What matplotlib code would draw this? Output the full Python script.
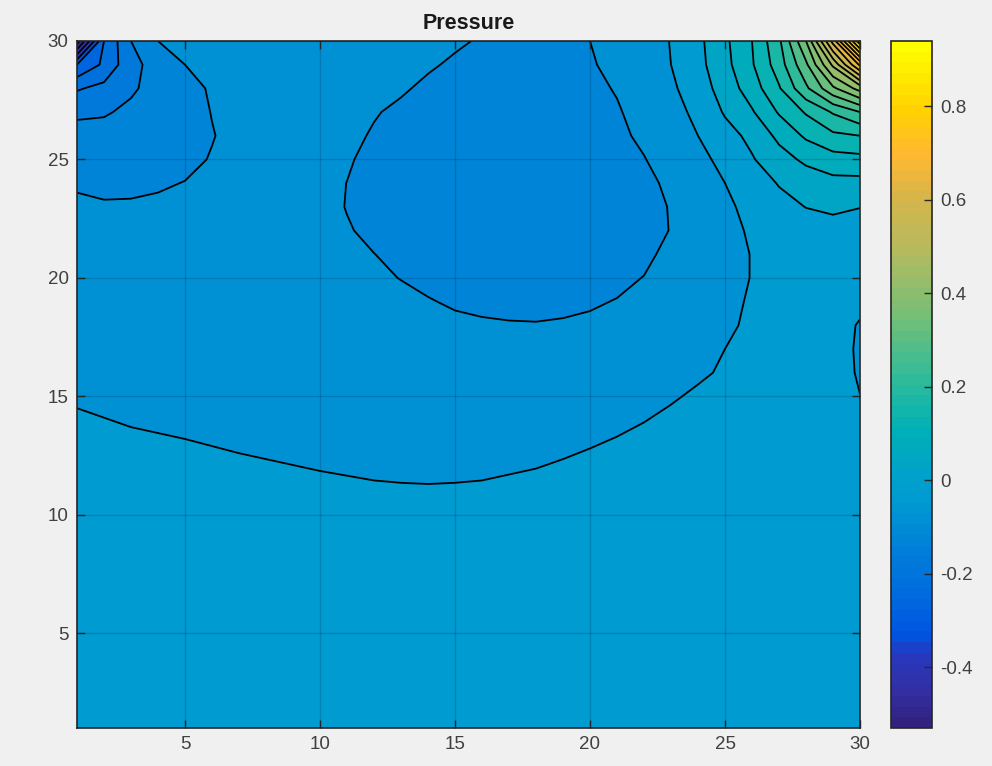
import matplotlib
matplotlib.use('Agg')
import matplotlib.pyplot as plt
import numpy as np
from matplotlib.cm import ScalarMappable
from matplotlib.colors import LinearSegmentedColormap, Normalize

plt.rcParams['font.family'] = ['Liberation Sans', 'DejaVu Sans']

# grid nodes, pressure, one row per y (y = 1 first)
x_nodes = list(range(1, 31))
y_nodes = list(range(1, 31))
pressure = [
    [-.031,-.031,-.031,-.031,-.032,-.032,-.032,-.032,-.032,-.032,-.033,-.033,-.033,-.033,-.033,-.033,-.033,-.033,-.032,-.032,-.032,-.032,-.031,-.031,-.031,-.031,-.031,-.031,-.031,-.031],
    [-.032,-.032,-.032,-.033,-.033,-.033,-.033,-.033,-.034,-.034,-.034,-.034,-.034,-.034,-.034,-.034,-.034,-.034,-.034,-.033,-.033,-.033,-.032,-.032,-.032,-.032,-.032,-.032,-.032,-.032],
    [-.033,-.033,-.034,-.034,-.034,-.034,-.035,-.035,-.035,-.035,-.036,-.036,-.036,-.036,-.036,-.036,-.036,-.035,-.035,-.035,-.034,-.034,-.033,-.033,-.033,-.033,-.033,-.033,-.033,-.033],
    [-.034,-.034,-.035,-.035,-.035,-.036,-.036,-.036,-.037,-.037,-.037,-.037,-.038,-.038,-.038,-.037,-.037,-.037,-.036,-.036,-.035,-.035,-.034,-.034,-.034,-.034,-.034,-.034,-.034,-.034],
    [-.035,-.035,-.036,-.036,-.037,-.037,-.037,-.038,-.038,-.039,-.039,-.039,-.039,-.04,-.04,-.039,-.039,-.038,-.038,-.037,-.036,-.036,-.035,-.035,-.035,-.035,-.035,-.035,-.035,-.035],
    [-.036,-.037,-.037,-.037,-.038,-.038,-.039,-.039,-.04,-.04,-.04,-.041,-.041,-.041,-.041,-.041,-.04,-.04,-.039,-.038,-.038,-.037,-.036,-.036,-.036,-.036,-.036,-.036,-.036,-.036],
    [-.037,-.038,-.038,-.039,-.039,-.04,-.04,-.041,-.041,-.042,-.042,-.042,-.043,-.043,-.043,-.043,-.042,-.042,-.041,-.04,-.039,-.038,-.037,-.037,-.037,-.037,-.037,-.037,-.037,-.037],
    [-.039,-.039,-.04,-.04,-.041,-.041,-.042,-.042,-.043,-.043,-.043,-.044,-.044,-.044,-.044,-.044,-.043,-.043,-.042,-.041,-.04,-.039,-.038,-.038,-.038,-.038,-.038,-.038,-.038,-.038],
    [-.04,-.041,-.041,-.042,-.042,-.043,-.043,-.043,-.043,-.044,-.044,-.044,-.045,-.045,-.045,-.045,-.044,-.044,-.043,-.042,-.041,-.04,-.039,-.039,-.039,-.039,-.039,-.039,-.039,-.039],
    [-.042,-.042,-.043,-.043,-.043,-.043,-.044,-.044,-.044,-.045,-.045,-.046,-.046,-.047,-.046,-.046,-.045,-.044,-.044,-.043,-.042,-.041,-.04,-.04,-.04,-.04,-.04,-.04,-.04,-.04],
    [-.043,-.043,-.044,-.044,-.044,-.044,-.044,-.044,-.0445,-.04575,-.04675,-.04775,-.04825,-.0485,-.04825,-.04775,-.0465,-.04525,-.044,-.043,-.043,-.042,-.041,-.041,-.041,-.04,-.04,-.04,-.04,-.041],
    [-.044,-.045,-.045,-.046,-.046,-.0455,-.047,-.04825,-.0495,-.05075,-.05175,-.05275,-.05325,-.0535,-.05325,-.05275,-.0515,-.05025,-.04825,-.046,-.044,-.043,-.042,-.042,-.042,-.042,-.041,-.041,-.041,-.043],
    [-.045,-.047,-.0465,-.04775,-.049,-.0505,-.052,-.05325,-.0545,-.056,-.058,-.06,-.062,-.063,-.063,-.062,-.061,-.059,-.05325,-.051,-.0485,-.0455,-.044,-.044,-.043,-.043,-.042,-.042,-.042,-.044],
    [-.0475,-.0495,-.0515,-.05275,-.054,-.055,-.056,-.057,-.059,-.061,-.064,-.066,-.068,-.07,-.07,-.07,-.069,-.067,-.063,-.059,-.0535,-.0505,-.04675,-.045,-.044,-.043,-.042,-.042,-.042,-.046],
    [-.0525,-.0545,-.056,-.057,-.058,-.059,-.06,-.061,-.063,-.066,-.069,-.072,-.074,-.076,-.077,-.077,-.076,-.075,-.071,-.067,-.06,-.056,-.05175,-.0475,-.046,-.044,-.043,-.043,-.044,-.0499],
    [-.057,-.058,-.059,-.06,-.061,-.062,-.063,-.064,-.066,-.069,-.073,-.077,-.08,-.082,-.083,-.084,-.084,-.083,-.08,-.075,-.067,-.063,-.058,-.0525,-.048,-.045,-.044,-.044,-.046,-.051],
    [-.061,-.062,-.063,-.064,-.065,-.065,-.066,-.067,-.069,-.072,-.077,-.082,-.085,-.088,-.09,-.091,-.092,-.091,-.088,-.083,-.076,-.073,-.066,-.056,-.05,-.045,-.044,-.045,-.047,-.051],
    [-.067,-.068,-.069,-.069,-.069,-.069,-.069,-.07,-.072,-.076,-.081,-.086,-.09,-.093,-.096,-.0979,-.0988,-.0991,-.0982,-.0964,-.09,-.083,-.075,-.063,-.054,-.046,-.044,-.044,-.045,-.051],
    [-.073,-.074,-.075,-.074,-.073,-.072,-.072,-.073,-.075,-.08,-.085,-.09,-.0946,-.0988,-.1024,-.1039,-.1048,-.1051,-.1042,-.1024,-.0991,-.092,-.083,-.07,-.057,-.047,-.045,-.044,-.044,-.047],
    [-.079,-.08,-.081,-.08,-.077,-.075,-.074,-.075,-.078,-.084,-.09,-.096,-.1006,-.1048,-.108,-.11,-.112,-.111,-.109,-.107,-.1051,-.0994,-.09,-.076,-.06,-.049,-.043,-.04,-.036,-.04],
    [-.084,-.086,-.087,-.085,-.082,-.079,-.077,-.077,-.08,-.087,-.094,-.0997,-.106,-.11,-.114,-.116,-.117,-.117,-.114,-.111,-.108,-.1054,-.0935,-.078,-.06,-.049,-.04,-.034,-.027,-.03],
    [-.09,-.092,-.092,-.09,-.087,-.083,-.08,-.079,-.081,-.088,-.098,-.1057,-.11,-.115,-.118,-.12,-.121,-.121,-.118,-.114,-.11,-.108,-.0992,-.08,-.06,-.0457,-.03,-.022,-.012,-.018],
    [-.0946,-.0973,-.0969,-.0946,-.092,-.088,-.083,-.081,-.083,-.091,-.101,-.108,-.114,-.118,-.121,-.123,-.124,-.124,-.12,-.115,-.11,-.106,-.099,-.075,-.056,-.041,-.016,.001,.006,.001],
    [-.1036,-.1063,-.1059,-.1036,-.0991,-.093,-.086,-.082,-.084,-.091,-.1003,-.109,-.115,-.119,-.122,-.124,-.125,-.124,-.12,-.114,-.109,-.105,-.096,-.07,-.05,-.025,.003,.022,.035,.035],
    [-.115,-.118,-.116,-.112,-.1081,-.098,-.088,-.083,-.085,-.09,-.097,-.108,-.114,-.118,-.121,-.123,-.124,-.123,-.118,-.112,-.106,-.101,-.089,-.06,-.04,-.004,.03,.06,.08,.085],
    [-.13,-.132,-.127,-.12,-.112,-.1015,-.09,-.084,-.084,-.089,-.095,-.102,-.11,-.115,-.118,-.121,-.122,-.121,-.116,-.11,-.105,-.0955,-.08,-.05,-.018,.012,.062,.108,.14,.15],
    [-.16,-.155,-.14,-.127,-.114,-.099,-.089,-.083,-.083,-.086,-.091,-.0985,-.104,-.11,-.114,-.117,-.119,-.118,-.113,-.107,-.102,-.092,-.065,-.04,.005,.045,.105,.155,.205,.25],
    [-.205,-.186,-.157,-.132,-.112,-.096,-.087,-.08,-.08,-.083,-.087,-.092,-.0975,-.104,-.109,-.113,-.115,-.115,-.11,-.105,-.0985,-.084,-.058,-.025,.022,.075,.145,.24,.34,.42],
    [-.30,-.24,-.165,-.13,-.10,-.09,-.08,-.076,-.076,-.08,-.085,-.09,-.092,-.0975,-.103,-.108,-.11,-.111,-.107,-.102,-.0943,-.08,-.05,-.015,.035,.095,.175,.29,.46,.66],
    [-.53,-.25,-.15,-.10,-.085,-.075,-.07,-.068,-.07,-.076,-.08,-.085,-.09,-.093,-.097,-.102,-.106,-.108,-.104,-.10,-.09,-.075,-.048,-.012,.04,.10,.19,.35,.62,.94],
]
x_ticks = [5, 10, 15, 20, 25, 30]
y_ticks = [5, 10, 15, 20, 25, 30]
cbar_ticks = [-0.4, -0.2, 0, 0.2, 0.4, 0.6, 0.8]
cbar_labels = ['-0.4', '-0.2', '0', '0.2', '0.4', '0.6', '0.8']

vmin, vmax = -0.53, 0.94
anchors = [(-0.53, (.20, .13, .50)), (-0.45, (.19, .19, .65)), (-0.38, (.15, .22, .75)),
           (-0.34, (0, .33, .88)), (-0.25, (0, .42, .87)), (-0.15, (0, .50, .85)),
           (-0.05, (0, .60, .82)), (0, (0, .63, .80)), (0.1, (0, .69, .72)),
           (0.2, (.15, .73, .62)), (0.35, (.45, .75, .47)), (0.5, (.72, .73, .37)),
           (0.6, (.82, .71, .30)), (0.7, (1, .72, .20)), (0.8, (1, .82, 0)), (0.94, (1, 1, 0))]
cmap = LinearSegmentedColormap.from_list(
    'old_parula', [((v - vmin) / (vmax - vmin), c) for v, c in anchors], N=64)
norm = Normalize(vmin, vmax)

W, H = 992, 766
bg = '#f0f0f0'
fig = plt.figure(figsize=(W / 100, H / 100), dpi=100, facecolor=bg)
ax = fig.add_axes([77 / W, 1 - 728 / H, 783 / W, 687 / H])

levels = np.round(np.arange(-0.55, 0.951, 0.05), 2)
fill_colors = [cmap(norm(l + 0.025)) for l in levels[:-1]]
z = np.array(pressure)
ax.contourf(x_nodes, y_nodes, z, levels=levels, colors=fill_colors, antialiased=True)
ax.contour(x_nodes, y_nodes, z, levels=levels[1:-1], colors='black', linewidths=1.3,
           linestyles='solid')

ax.set_xlim(1, 30)
ax.set_ylim(1, 30)
ax.set_xticks(x_ticks)
ax.set_yticks(y_ticks)
ax.set_axisbelow(False)
ax.grid(True, color='black', alpha=0.15, linewidth=1.0)
ax.tick_params(direction='in', top=True, right=True, length=6, width=1.0,
               labelsize=13.5, labelcolor='#404040', color='#262626', pad=6)
for s in ax.spines.values():
    s.set_linewidth(1.2)
    s.set_color('#262626')
ax.set_title('Pressure', fontsize=15.5, fontweight='bold', color='#1a1a1a', pad=8.5)

cax = fig.add_axes([891 / W, 1 - 728 / H, 41 / W, 687 / H])
cb = fig.colorbar(ScalarMappable(norm=norm, cmap=cmap), cax=cax)
cb.set_ticks(cbar_ticks, labels=cbar_labels)
cax.tick_params(direction='in', length=6, width=1.0, labelsize=13.5,
                labelcolor='#404040', color='#262626', pad=6)
cb.outline.set_linewidth(1.2)
cb.outline.set_edgecolor('#262626')

fig.savefig('out.png', dpi=100, facecolor=bg)
